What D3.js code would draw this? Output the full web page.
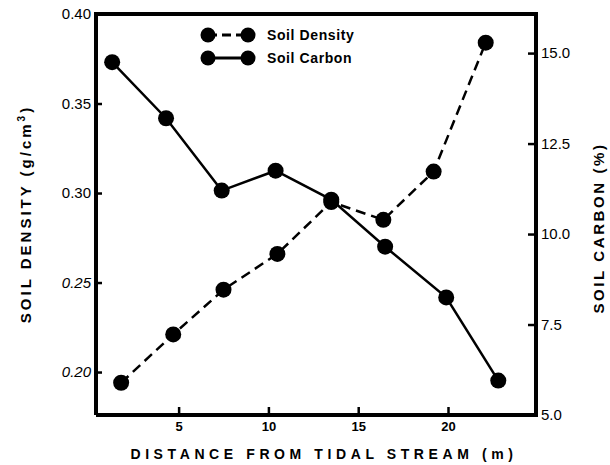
<!DOCTYPE html>
<html>
<head>
<meta charset="utf-8">
<script src="https://cdn.jsdelivr.net/npm/d3@7"></script>
<style>
  body { margin: 0; background: #fff; }
  text { font-family: "Liberation Sans", Arial, sans-serif; fill: #000; }
</style>
</head>
<body>
<div id="chart"></div>
<script>
// datos
const distDensity = [1.8, 4.7, 7.5, 10.5, 13.5, 16.4, 19.2, 22.1];
const soilDensity = [0.194, 0.221, 0.246, 0.266, 0.295, 0.285, 0.312, 0.384];
const distCarbon = [1.3, 4.3, 7.4, 10.4, 13.5, 16.5, 19.9, 22.8];
const soilCarbon = [14.75, 13.2, 11.2, 11.75, 10.95, 9.65, 8.25, 5.95];

const xTicks = [5, 10, 15, 20];
const leftTicks = [0.20, 0.25, 0.30, 0.35, 0.40];
const rightTicks = [5.0, 7.5, 10.0, 12.5, 15.0];

const legendLabels = ['Soil Density', 'Soil Carbon'];

var width = 610, height = 465;
// ojo: "top" es una global del navegador, por eso plotTop etc.
var plotLeft = 96, plotRight = 536, plotTop = 14, plotBottom = 415;

var svg = d3.select('#chart')
  .append('svg')
  .attr('width', width)
  .attr('height', height);

var x = d3.scaleLinear().domain([0.4, 24.9]).range([plotLeft, plotRight]);
var yL = d3.scaleLinear().domain([0.176, 0.40]).range([plotBottom, plotTop]);
var yR = d3.scaleLinear().domain([5.0, 16.08]).range([plotBottom, plotTop]);

// ejes (ticks hacia dentro)
var axL = svg.append('g')
  .attr('transform', `translate(${plotLeft},0)`)
  .call(d3.axisLeft(yL).tickValues(leftTicks).tickSizeInner(-6).tickSizeOuter(0)
    .tickPadding(5).tickFormat(d3.format('.2f')));
axL.selectAll('text').attr('font-size', 15).style('font-style', (d) => d < 0.28 ? 'italic' : 'normal');

var axR = svg.append('g')
  .attr('transform', `translate(${plotRight},0)`)
  .call(d3.axisRight(yR).tickValues(rightTicks).tickSizeInner(-8).tickSizeOuter(0)
    .tickPadding(5).tickFormat(d3.format('.1f')));
axR.selectAll('text').attr('font-size', 15);

var axB = svg.append('g')
  .attr('transform', `translate(0,${plotBottom})`)
  .call(d3.axisBottom(x).tickValues(xTicks).tickSizeInner(-8).tickSizeOuter(0).tickPadding(7));
axB.selectAll('text').attr('font-size', 13).attr('font-weight', 'bold');

svg.selectAll('.domain').remove();
svg.selectAll('.tick line').attr('stroke', '#000').attr('stroke-width', 2.5);
axL.selectAll('.tick').filter((d) => d === 0.40).select('line').remove();
axR.selectAll('.tick').filter((d) => d === 5.0).select('line').remove();

// marco
svg.append('path')
  .attr('d', `M${plotLeft},${plotBottom} L${plotLeft},${plotTop} L${plotRight},${plotTop} L${plotRight},${plotBottom} L${plotLeft},${plotBottom}`)
  .attr('fill', 'none')
  .attr('stroke', '#000')
  .attr('stroke-width', 4);

// series
var densityPts = distDensity.map((d, i) => [d, soilDensity[i]]);
var carbonPts = distCarbon.map((d, i) => [d, soilCarbon[i]]);

var lineL = d3.line().x((d) => x(d[0])).y((d) => yL(d[1]));
var lineR = d3.line().x((d) => x(d[0])).y((d) => yR(d[1]));

svg.append('path')
  .datum(densityPts)
  .attr('d', lineL)
  .attr('fill', 'none')
  .attr('stroke', '#000')
  .attr('stroke-width', 2.5)
  .attr('stroke-dasharray', '10,6');

svg.append('path')
  .datum(carbonPts)
  .attr('d', lineR)
  .attr('fill', 'none')
  .attr('stroke', '#000')
  .attr('stroke-width', 2.5);

svg.append('g').selectAll('circle')
  .data(densityPts)
  .enter()
  .append('circle')
  .attr('cx', (d) => x(d[0]))
  .attr('cy', (d) => yL(d[1]))
  .attr('r', 8);

svg.append('g').selectAll('circle')
  .data(carbonPts)
  .enter()
  .append('circle')
  .attr('cx', (d) => x(d[0]))
  .attr('cy', (d) => yR(d[1]))
  .attr('r', 8);

// leyenda
var legend = svg.append('g').selectAll('g')
  .data(legendLabels)
  .enter()
  .append('g')
  .attr('transform', (d, i) => `translate(208,${35 + i * 23})`);

legend.append('line')
  .attr('x1', 0).attr('x2', 40)
  .attr('stroke', '#000')
  .attr('stroke-width', 3)
  .attr('stroke-dasharray', (d, i) => i === 0 ? '9,5' : null);
legend.append('circle').attr('cx', 0).attr('r', 7.5);
legend.append('circle').attr('cx', 40).attr('r', 7.5);
legend.append('text')
  .attr('x', 59)
  .attr('y', 5)
  .attr('font-size', 14)
  .attr('font-weight', 'bold')
  .attr('letter-spacing', 0.6)
  .text((d) => d);

// titulos
svg.append('text')
  .attr('x', 324)
  .attr('y', 459)
  .attr('text-anchor', 'middle')
  .attr('font-size', 14)
  .attr('font-weight', 'bold')
  .attr('letter-spacing', 4.6)
  .text('DISTANCE FROM TIDAL STREAM (m)');

var tL = svg.append('text')
  .attr('transform', 'translate(31,214) rotate(-90)')
  .attr('text-anchor', 'middle')
  .attr('font-size', 15)
  .attr('font-weight', 'bold')
  .attr('letter-spacing', 3);
tL.append('tspan').text('SOIL DENSITY (g/cm');
tL.append('tspan').attr('dy', -6).attr('font-size', 10).text('3');
tL.append('tspan').attr('dy', 6).text(')');

svg.append('text')
  .attr('transform', 'translate(604,228) rotate(-90)')
  .attr('text-anchor', 'middle')
  .attr('font-size', 15)
  .attr('font-weight', 'bold')
  .attr('letter-spacing', 2.6)
  .text('SOIL CARBON (%)');
</script>
</body>
</html>
